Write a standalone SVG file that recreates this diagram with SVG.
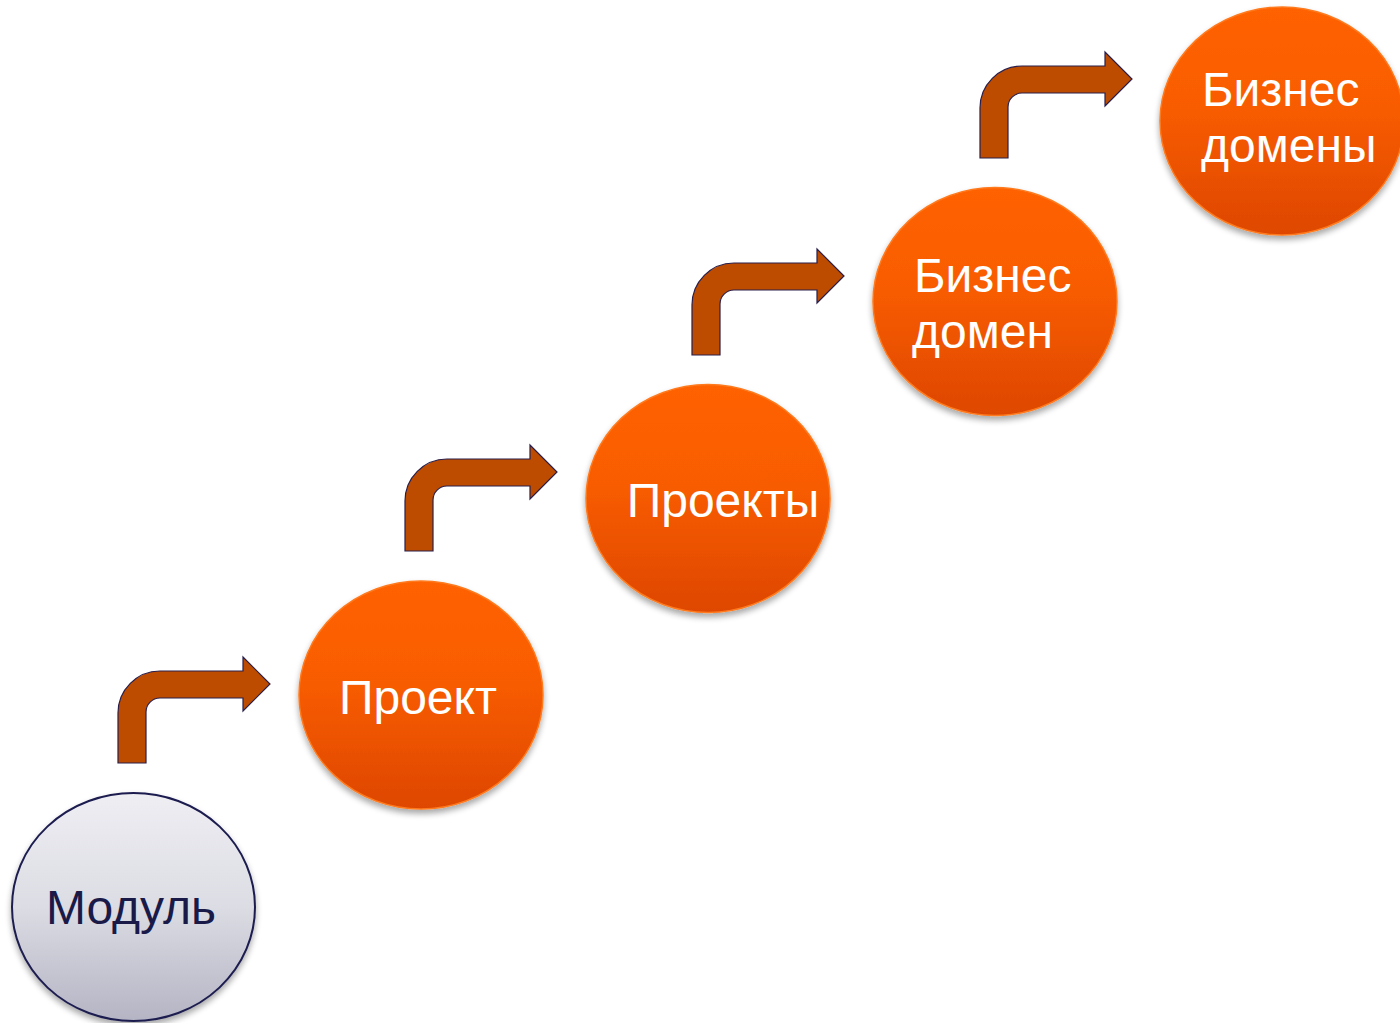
<svg xmlns="http://www.w3.org/2000/svg" xmlns:xlink="http://www.w3.org/1999/xlink" width="1400" height="1023" viewBox="0 0 1400 1023">
<defs>
<linearGradient id="gOrange" x1="0" y1="0" x2="0" y2="1">
<stop offset="0" stop-color="#FF6200"/>
<stop offset="0.45" stop-color="#F85C00"/>
<stop offset="1" stop-color="#DE4700"/>
</linearGradient>
<linearGradient id="gGray" x1="0" y1="0" x2="0" y2="1">
<stop offset="0" stop-color="#EEEEF3"/>
<stop offset="0.5" stop-color="#DCDCE4"/>
<stop offset="1" stop-color="#B4B4C4"/>
</linearGradient>
<filter id="sh" x="-20%" y="-20%" width="140%" height="150%">
<feGaussianBlur in="SourceAlpha" stdDeviation="3"/>
<feOffset dx="0" dy="4" result="b"/>
<feComponentTransfer><feFuncA type="linear" slope="0.35"/></feComponentTransfer>
<feMerge><feMergeNode/><feMergeNode in="SourceGraphic"/></feMerge>
</filter>
<path id="arrow" d="M118,763 L118,713 A42,42 0 0 1 160,671 L243,671 L243,657 L270,684 L243,711 L243,698 L160,698 A14,14 0 0 0 146,712 L146,763 Z"/>
</defs>
<style>
.orange{fill:url(#gOrange);stroke:#FF7A1E;stroke-width:1.5;filter:url(#sh)}
.gray{fill:url(#gGray);stroke:#1C1C50;stroke-width:2;filter:url(#sh)}
.wt{font-family:"Liberation Sans",Arial,sans-serif;font-size:48px;fill:#FFFFFF}
.dt{font-family:"Liberation Sans",Arial,sans-serif;font-size:48px;fill:#1A1A48}
.arr{fill:#BE4C00;stroke:#2A1E4A;stroke-width:1.2}
</style>
<rect width="1400" height="1023" fill="#FFFFFF"/>
<g id="connectors">
<use xlink:href="#arrow" class="arr"/>
<use xlink:href="#arrow" class="arr" transform="translate(287,-212)"/>
<use xlink:href="#arrow" class="arr" transform="translate(574,-408)"/>
<use xlink:href="#arrow" class="arr" transform="translate(862,-605)"/>
</g>
<g id="node-modul">
<ellipse class="gray" cx="133.5" cy="907" rx="121.5" ry="114"/>
<text class="dt" x="131" y="924" text-anchor="middle">Модуль</text>
</g>
<g id="node-proekt">
<ellipse class="orange" cx="421" cy="695" rx="122" ry="114"/>
<text class="wt" x="418" y="714" text-anchor="middle">Проект</text>
</g>
<g id="node-proekty">
<ellipse class="orange" cx="708" cy="498.5" rx="122" ry="114"/>
<text class="wt" x="723" y="517" text-anchor="middle">Проекты</text>
</g>
<g id="node-biznes-domen">
<ellipse class="orange" cx="995" cy="301.5" rx="122" ry="114"/>
<text class="wt" x="914" y="292">Бизнес</text>
<text class="wt" x="912" y="348">домен</text>
</g>
<g id="node-biznes-domeny">
<ellipse class="orange" cx="1282" cy="121" rx="122" ry="114"/>
<text class="wt" x="1202" y="106">Бизнес</text>
<text class="wt" x="1201" y="162">домены</text>
</g>
</svg>
